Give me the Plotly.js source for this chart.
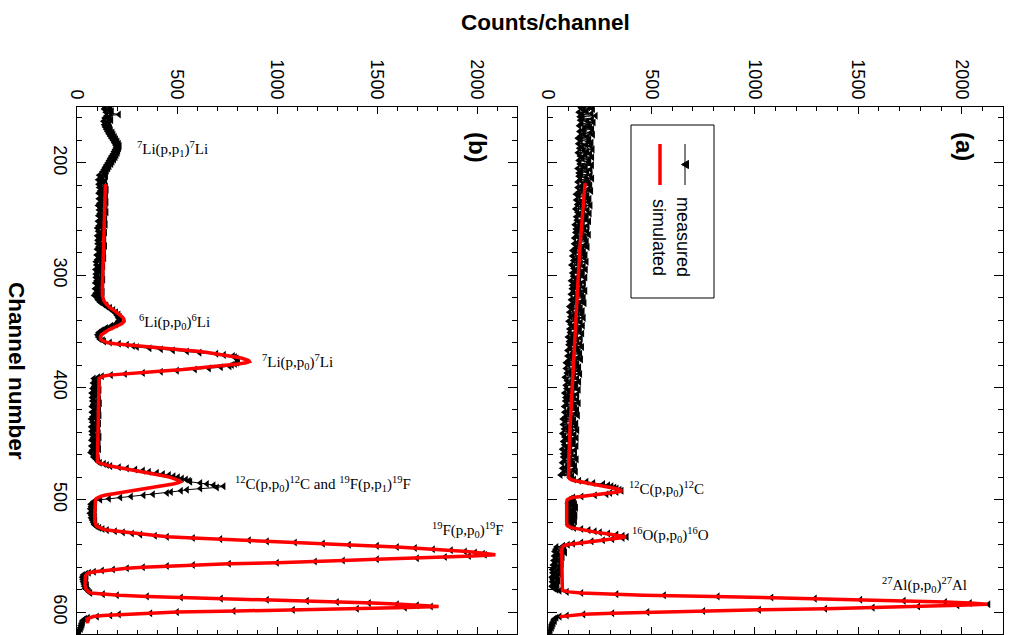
<!DOCTYPE html>
<html>
<head>
<meta charset="utf-8">
<script src="https://cdn.plot.ly/plotly-3.0.1.min.js"></script>
<style>html,body{margin:0;padding:0;background:#fff;}#chart{width:1009px;height:635px;}</style>
</head>
<body>
<div id="chart"></div>
<script>
// ---------------- DATA ----------------
// measured spectra: one value per channel, starting at channel 150
const measuredStartChannel = 150;
const measuredB = [
140,168,135,160,175,144,170,210,148,165,
138,160,172,132,162,145,136,160,140,166,
146,170,152,178,158,183,165,190,172,196,
180,203,186,210,192,214,195,211,190,207,
185,204,180,198,172,193,166,186,160,178,
154,172,146,163,140,157,134,150,127,144,
138,111,146,120,129,106,142,116,133,108,
118,145,111,132,149,115,136,108,140,124,
146,120,109,142,122,148,112,133,105,138,
117,144,110,131,148,114,135,107,139,123,
142,116,105,138,118,144,108,129,101,134,
133,106,141,115,124,101,137,111,128,103,
110,137,103,124,141,107,128,100,132,116,
135,109,98,131,111,137,101,122,94,127,
124,97,132,106,115,92,128,102,119,94,
101,128,94,115,132,98,119,91,123,107,
127,101,90,123,103,129,93,114,86,119,
100,112,104,118,114,128,132,146,148,165,
165,182,180,196,193,208,200,214,206,212,
218,205,212,196,194,172,168,146,140,124,
124,108,114,102,112,106,118,114,130,136,
165,210,250,280,300,363,420,480,550,613,
697,735,780,790,798,802,805,805,800,790,
775,763,720,660,590,500,420,330,240,170,
125,106,84,101,90,110,80,98,105,86,
105,78,113,87,96,73,109,83,100,75,
84,111,77,98,115,81,102,74,106,90,
111,85,74,107,87,113,77,98,70,103,
103,76,111,85,94,71,107,81,98,73,
82,109,75,96,113,79,100,72,104,88,
109,83,72,105,85,111,75,96,68,101,
88,100,82,104,95,102,104,115,135,150,
167,210,250,292,330,360,400,430,460,483,
505,525,545,560,567,617,650,683,733,700,
617,550,520,470,450,380,333,270,217,160,
117,92,80,88,68,84,70,90,66,82,
74,88,64,86,72,90,70,84,75,92,
80,90,85,92,100,112,128,150,190,230,
275,317,390,450,580,717,860,950,1090,1230,
1360,1500,1600,1690,1780,1870,1940,1990,2030,2040,
1960,1840,1700,1500,1330,1190,1000,760,580,450,
330,250,180,125,85,60,45,30,48,26,
44,28,46,30,42,34,50,36,48,40,
52,55,60,67,130,200,350,520,720,950,
1150,1300,1460,1600,1700,1770,1640,1400,1080,783,
500,367,210,167,100,55,40,32,26,30,
22,28,18,24,15,20,12,8,10,5,
3
];
const measuredA = [
202,157,217,172,187,147,210,164,230,152,
167,212,154,190,220,162,197,149,204,177,
213,169,151,206,173,217,156,191,143,199,
158,194,210,145,185,206,164,150,215,172,
189,143,203,181,153,213,167,199,147,194,
197,152,212,167,182,142,205,159,189,147,
160,205,147,183,213,155,190,142,197,170,
204,160,142,197,164,208,147,182,134,190,
148,184,200,135,175,196,154,140,205,162,
177,131,191,169,141,201,155,187,135,182,
183,138,198,153,168,128,191,145,175,133,
144,189,131,167,197,139,174,126,181,154,
187,143,125,180,147,191,130,165,117,173,
129,165,181,116,156,177,135,121,186,143,
158,112,172,150,122,182,136,168,116,163,
165,120,180,135,150,110,173,127,157,115,
127,172,114,150,180,122,157,109,164,137,
172,128,110,165,132,176,115,150,102,158,
115,151,167,102,142,163,121,107,172,129,
144,98,158,136,108,168,122,154,102,149,
150,105,165,120,135,95,158,112,142,100,
111,156,98,134,164,106,141,93,148,121,
155,111,93,148,115,159,98,133,85,141,
98,134,150,85,125,146,104,90,155,112,
126,80,140,118,90,150,104,136,84,131,
133,88,148,103,118,78,141,95,125,83,
95,140,82,118,148,90,125,77,132,105,
140,96,78,133,100,144,83,118,70,126,
84,120,136,71,111,132,90,76,141,98,
114,68,128,106,78,138,92,124,72,119,
122,77,137,92,107,67,130,84,114,72,
85,130,72,108,138,80,115,67,122,95,
130,86,68,123,90,134,73,108,60,116,
104,112,125,150,185,218,266,290,306,320,
331,345,355,330,300,282,226,161,121,108,
100,125,112,95,130,118,102,135,97,120,
108,128,115,100,132,112,99,124,106,130,
98,118,96,112,108,125,160,195,225,250,
290,330,360,380,360,310,265,210,160,120,
95,72,40,78,35,70,30,82,45,66,
28,70,40,62,25,58,35,66,22,54,
30,60,18,52,38,20,55,28,45,15,
42,22,50,18,38,26,45,15,35,28,
40,55,90,160,330,560,820,1080,1290,1510,
1720,1920,2040,2130,1980,1790,1570,1340,1020,750,
480,310,170,90,55,40,30,25,32,20,
26,15,22,10,18,8,12,5,8,3,
2
];

// simulated spectra (explicit channel / counts pairs)
const simB_channel = [219,230,240,250,260,270,280,290,300,310,318,321,323,325,327,329,331,333,335,337,339,340,341,343,345,347,349,351,353,355,357,358,359,360,361,362,363,364,365,366,367,368,369,370,371,372,373,374,375,376,377,378,379,380,381,382,383,384,385,386,387,388,389,390,391,392,395,405,420,440,460,466,467,468,469,470,471,472,473,474,475,476,477,478,479,480,481,482,483,484,485,486,487,488,489,490,491,492,493,494,495,496,497,498,499,500,505,512,520,523,524,525,526,527,528,529,530,531,532,533,534,535,536,537,538,539,540,541,542,543,544,545,546,547,548,549,550,551,552,553,554,555,556,557,558,559,560,561,562,563,564,565,566,568,572,576,579,581,582,583,584,585,586,587,588,589,590,591,592,593,594,595,596,597,598,599,600,601,602,603,604,605,606,608,610];
const simB_counts  = [142,140,138,136,134,131,129,127,127,127,127,130,135,143,152,165,182,198,212,225,234,237,236,225,205,180,155,135,122,117,118,125,135,150,190,255,330,390,450,510,570,615,660,700,735,770,800,825,845,858,862,845,805,755,710,665,605,530,445,360,280,210,160,130,116,110,110,110,107,105,101,102,108,125,145,167,200,233,268,300,335,367,395,420,445,467,485,500,512,517,505,480,445,405,365,320,285,250,215,185,160,138,118,104,96,92,90,89,90,96,103,115,130,150,200,240,280,320,380,450,580,720,860,970,1100,1240,1370,1500,1600,1680,1780,1880,1950,2000,2050,2092,1980,1850,1700,1500,1330,1200,1000,760,580,450,330,250,180,125,88,62,50,42,40,40,44,52,58,68,130,210,350,560,740,950,1150,1320,1480,1620,1730,1808,1650,1420,1100,800,500,340,210,130,82,58,50,52,53];

const simA_channel = [218,230,240,250,260,270,284,300,315,331,345,360,375,390,405,420,440,461,476,480,481,482,483,484,485,486,487,488,489,490,491,492,493,494,495,496,497,498,499,500,502,510,520,523,524,525,526,527,528,529,530,531,532,533,534,535,536,537,538,539,540,541,542,545,555,565,575,580,581,582,583,584,585,586,587,588,589,590,591,592,593,594,595,596,597,598,599,600,601,602,603,604,605];
const simA_counts  = [178,172,168,163,159,155,150,145,141,137,132,126,121,116,112,108,104,100,97,98,102,110,130,160,195,225,255,285,305,325,342,357,335,290,240,190,150,118,100,92,89,88,89,92,100,118,145,170,200,235,275,320,350,376,345,300,255,200,155,115,90,75,68,65,66,68,70,68,75,100,160,310,460,800,1040,1290,1510,1720,1920,2040,2125,1990,1790,1570,1340,1030,720,480,310,170,95,62,57];

// axis ticks / labels
const countsTicks = [0, 500, 1000, 1500, 2000];
const channelTicks = [200, 300, 400, 500, 600];
const reactionLabelsB = [
  {text:'<sup>7</sup>Li(p,p<sub>1</sub>)<sup>7</sup>Li', counts:290, channel:188},
  {text:'<sup>6</sup>Li(p,p<sub>0</sub>)<sup>6</sup>Li', counts:300, channel:341.5},
  {text:'<sup>7</sup>Li(p,p<sub>0</sub>)<sup>7</sup>Li', counts:915, channel:377},
  {text:'<sup>12</sup>C(p,p<sub>0</sub>)<sup>12</sup>C and <sup>19</sup>F(p,p<sub>1</sub>)<sup>19</sup>F', counts:780, channel:486},
  {text:'<sup>19</sup>F(p,p<sub>0</sub>)<sup>19</sup>F', counts:1765, channel:527}
];
const reactionLabelsA = [
  {text:'<sup>12</sup>C(p,p<sub>0</sub>)<sup>12</sup>C', counts:381, channel:490},
  {text:'<sup>16</sup>O(p,p<sub>0</sub>)<sup>16</sup>O', counts:395, channel:531},
  {text:'<sup>27</sup>Al(p,p<sub>0</sub>)<sup>27</sup>Al', counts:1604, channel:576}
];

// ---------------- BUILD ----------------
const W = 1009, H = 635;
const px = x => x / W;
const py = y => 1 - y / H;
const chan = arr => arr.map((_, i) => measuredStartChannel + i);

const measStyle = {mode:'lines+markers', line:{color:'#000', width:1}, marker:{symbol:'triangle-left', size:7, color:'#000'}, showlegend:false, hoverinfo:'skip'};
const simStyle = {mode:'lines', line:{color:'#ff0000', width:3.5}, showlegend:false, hoverinfo:'skip'};

const traces = [
  Object.assign({x: measuredB, y: chan(measuredB), xaxis:'x', yaxis:'y'}, measStyle),
  Object.assign({x: simB_counts, y: simB_channel, xaxis:'x', yaxis:'y'}, simStyle),
  Object.assign({x: measuredA, y: chan(measuredA), xaxis:'x2', yaxis:'y2'}, measStyle),
  Object.assign({x: simA_counts, y: simA_channel, xaxis:'x2', yaxis:'y2'}, simStyle)
];

const tickFont = {family:'Liberation Sans, Arial, sans-serif', size:18, color:'#000'};
function xAxis(domain, anchor){
  return {domain, anchor, range:[0,2200], side:'top', tickmode:'array', tickvals:countsTicks, ticktext:countsTicks.map(String),
    tickangle:90, ticks:'inside', ticklen:7, tickwidth:1, tickcolor:'#000',
    minor:{dtick:100, tick0:0, ticks:'inside', ticklen:4, tickwidth:1, tickcolor:'#000'},
    showline:true, linecolor:'#000', linewidth:1, mirror:'allticks', showgrid:false, zeroline:false, tickfont:tickFont, fixedrange:true};
}
function yAxis(anchor, showLabels){
  return {domain:[py(634), py(106.7)], anchor, range:[619.5,150], tickmode:'array', tickvals:channelTicks, ticktext:channelTicks.map(String),
    tickangle:90, ticks:'inside', ticklen:9, tickwidth:1, tickcolor:'#000',
    minor:{dtick:20, tick0:0, ticks:'inside', ticklen:5, tickwidth:1, tickcolor:'#000'},
    showticklabels:showLabels, showline:true, linecolor:'#000', linewidth:1, mirror:'allticks', showgrid:false, zeroline:false, tickfont:tickFont, fixedrange:true};
}

const serif = {family:'Liberation Serif, Times New Roman, serif', size:15, color:'#000'};
const annotations = [];
reactionLabelsB.forEach(l => annotations.push({xref:'x', yref:'y', x:l.counts, y:l.channel, text:l.text, showarrow:false, xanchor:'left', yanchor:'middle', font:serif}));
reactionLabelsA.forEach(l => annotations.push({xref:'x2', yref:'y2', x:l.counts, y:l.channel, text:l.text, showarrow:false, xanchor:'left', yanchor:'middle', font:serif}));
const boldFont = s => ({family:'Liberation Sans, Arial, sans-serif', size:s, color:'#000', weight:'bold'});
const sansFont = {family:'Liberation Sans, Arial, sans-serif', size:18, color:'#000'};
function paperNote(x, y, text, angle, font){
  return {xref:'paper', yref:'paper', x:px(x), y:py(y), text, textangle:angle, showarrow:false, xanchor:'center', yanchor:'middle', font};
}
annotations.push(
  paperNote(545, 22, '<b>Counts/channel</b>', 0, boldFont(22.5)),
  paperNote(17, 371, '<b>Channel number</b>', 90, boldFont(22.5)),
  paperNote(478, 147, '<b>(b)</b>', 90, boldFont(24)),
  paperNote(964, 146, '<b>(a)</b>', 90, boldFont(24)),
  paperNote(683, 237, 'measured', 90, sansFont),
  paperNote(659, 237, 'simulated', 90, sansFont)
);

const shapes = [
  {type:'rect', xref:'paper', yref:'paper', x0:px(631), x1:px(714), y0:py(125), y1:py(298), line:{color:'#000', width:1}},
  {type:'line', xref:'paper', yref:'paper', x0:px(685), x1:px(685), y0:py(144), y1:py(185), line:{color:'#000', width:1}},
  {type:'path', xref:'paper', yref:'paper', path:`M ${px(681.5)} ${py(164.5)} L ${px(688.5)} ${py(160.5)} L ${px(688.5)} ${py(168.5)} Z`, fillcolor:'#000', line:{color:'#000', width:1}},
  {type:'line', xref:'paper', yref:'paper', x0:px(660), x1:px(660), y0:py(144), y1:py(185), line:{color:'#ff0000', width:3.5}}
];

const layout = {
  width:W, height:H, autosize:false,
  margin:{l:0, r:0, t:0, b:0},
  paper_bgcolor:'#fff', plot_bgcolor:'#fff',
  xaxis: xAxis([px(77), px(517)], 'y'),
  yaxis: yAxis('x', true),
  xaxis2: xAxis([px(548.3), px(1003)], 'y2'),
  yaxis2: yAxis('x2', false),
  annotations, shapes, showlegend:false
};

Plotly.newPlot('chart', traces, layout, {staticPlot:true, displayModeBar:false});
</script>
</body>
</html>
